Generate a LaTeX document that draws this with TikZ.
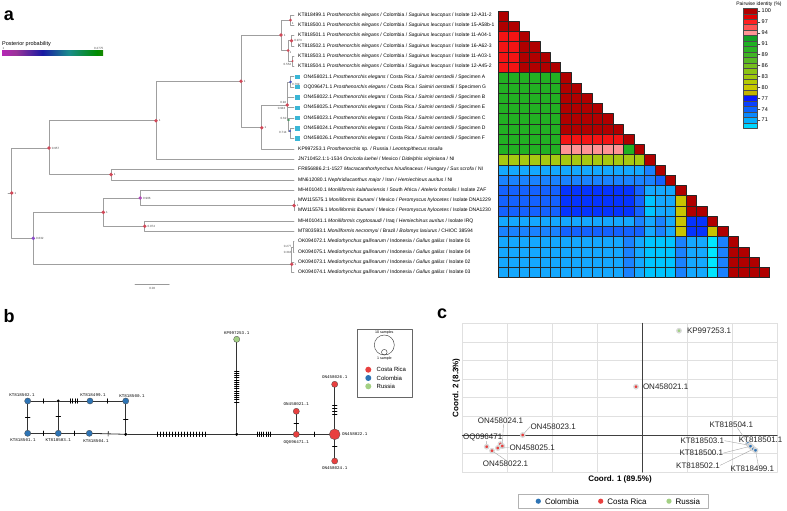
\documentclass[tikz,border=0pt]{standalone}
\usepackage{fontspec}
\setmainfont{Liberation Sans}
\setmonofont{Liberation Mono}
\usetikzlibrary{calc,positioning,decorations.markings}

% heatmap colours
\definecolor{hmD}{HTML}{B00000}
\definecolor{hmR}{HTML}{F41414}
\definecolor{hmP}{HTML}{FF9494}
\definecolor{hmG}{HTML}{22B022}
\definecolor{hmY}{HTML}{A6C812}
\definecolor{hmO}{HTML}{C8C400}
\definecolor{hmA}{HTML}{14A8FF}
\definecolor{hmM}{HTML}{1A82FF}
\definecolor{hmN}{HTML}{1462FF}
\definecolor{hmK}{HTML}{0534FF}
\definecolor{hmC}{HTML}{00C4FF}
\definecolor{hmE}{HTML}{00E6FF}
% countries
\definecolor{cr}{HTML}{E8403F}
\definecolor{co}{HTML}{2E74B5}
\definecolor{ru}{HTML}{A3D084}
\definecolor{crsq}{HTML}{3BB6D6}
% posterior dots
\definecolor{ppred}{HTML}{D04858}
\definecolor{pppur}{HTML}{8A4CC8}
\definecolor{ppmag}{HTML}{B04AB8}
\definecolor{ppblu}{HTML}{4450C0}
\definecolor{ppgrn}{HTML}{40A060}

\pgfdeclarehorizontalshading{postprob}{100bp}{color(0bp)=(red!75!magenta); color(18bp)=(magenta!80!black!90); color(32bp)=(violet!80); color(45bp)=(blue!60!black!90); color(58bp)=(teal!90); color(72bp)=(green!55!black); color(86bp)=(olive!90!black); color(100bp)=(brown!70!black)}

\begin{document}
\begin{tikzpicture}[
		x=1pt, y=-1pt,
		line join=round,
		line cap=round,
		branch/.style={gray!75, line width=0.6pt},
		pplab/.style={font=\fontsize{3}{3}\selectfont, text=black!70, inner sep=0.4pt},
		tiplab/.style={font=\fontsize{5}{5.5}\selectfont, anchor=west, inner sep=0pt},
		crbox/.style={fill=crsq, minimum size=4.4pt, inner sep=0pt},
		cell/.style={draw=black!85, line width=0.5pt},
		hap/.style={circle, draw=black!70, line width=0.3pt, fill=#1, inner sep=0pt, minimum size=6.2pt},
		medvec/.style={circle, fill=black, inner sep=0pt, minimum size=3.4pt},
		hlab/.style={font=\ttfamily\fontsize{4.2}{4.5}\selectfont, inner sep=0.5pt},
		edge/.style={black!80, line width=0.8pt},
		ticks/.style n args={3}{postaction={decorate, decoration={markings,
			mark=between positions #1 and #2 step #3 with {\draw[black, line width=0.6pt] (0,-2.3pt) -- (0,2.3pt);}}}},
		onetick/.style={postaction={decorate, decoration={markings,
			mark=at position #1 with {\draw[black, line width=0.6pt] (0,-2.3pt) -- (0,2.3pt);}}}},
		gridline/.style={black!12, line width=0.5pt},
		axisline/.style={black!75, line width=0.7pt},
		pcpt/.style={circle, fill=#1, draw=black!15, line width=1.3pt, inner sep=0pt, minimum size=4.4pt},
		plab/.style={font=\fontsize{8}{9}\selectfont, inner sep=0.3pt, text=black!85, anchor=west},
		leader/.style={gray!70, line width=0.4pt},
		panel/.style={font=\bfseries\fontsize{18}{18}\selectfont}
	]
	\fill[white] (0,0) rectangle (787,511);
	\useasboundingbox (0,0) rectangle (787,511);
	
	% Panel labels
	\node[panel] (pa) at (9,16) {a};
	\node[panel] (pb) at (9,316) {b};
	\node[panel] (pc) at (442,314) {c};
	
	% ---------------- a: tree ----------------
	% Posterior colour bar
	\node[font=\fontsize{5.5}{6}\selectfont, anchor=west, inner sep=0pt] (pptitle) at (2,44) {Posterior probability};
	\shade[shading=postprob] (2,51) rectangle (103,55.5);
	\node[pplab, anchor=west] (ppmax) at (2,48.5) {1};
	\node[pplab, anchor=east] (ppmin) at (104,48.5) {0.2775};
	
	% Tips
	\foreach \i in {1,...,26} {
		\coordinate (t\i) at (294,{15+(\i-1)*10.3});
	}
	
	% Internal nodes
	\coordinate (R) at (11.7,193);
	\coordinate (U1) at (49,148);
	\coordinate (U2) at (156,120.7);
	\coordinate (U3) at (241,81.3);
	\coordinate (U4) at (111,174.6);
	\coordinate (A) at (281,35);
	\coordinate (B) at (290.5,20.2);
	\coordinate (C) at (288,50.5);
	\coordinate (D) at (291.5,40.8);
	\coordinate (E) at (292.5,61.1);
	\coordinate (F) at (261.7,127.7);
	\coordinate (G) at (287.3,105);
	\coordinate (H) at (290.5,81.9);
	\coordinate (I) at (288.7,120);
	\coordinate (J) at (290,131);
	\coordinate (L1) at (33.3,238.3);
	\coordinate (L2) at (103.3,212.3);
	\coordinate (L3) at (140.3,198);
	\coordinate (L4) at (144.7,226.2);
	\coordinate (MW) at (294,205.6);
	\coordinate (OK) at (291.7,264.3);
	\coordinate (O1) at (292.8,246.8);
	
	% Branches
	\draw[branch] (8,193) -- (R);
	\draw[branch] (R) |- (U1);
	\draw[branch] (R) |- (L1);
	\draw[branch] (U1) |- (U2);
	\draw[branch] (U1) |- (U4);
	\draw[branch] (U2) |- (U3);
	\draw[branch] (U2) |- (t15);
	\draw[branch] (U3) |- (A);
	\draw[branch] (U3) |- (F);
	\draw[branch] (A) |- (B);
	\draw[branch] (A) |- (C);
	\draw[branch] (B) |- (t1);
	\draw[branch] (B) |- (t2);
	\draw[branch] (C) |- (D);
	\draw[branch] (C) |- (E);
	\draw[branch] (D) |- (t3);
	\draw[branch] (D) |- (t4);
	\draw[branch] (E) |- (t5);
	\draw[branch] (E) |- (t6);
	\draw[branch] (F) |- (G);
	\draw[branch] (F) |- (t14);
	\draw[branch] (G) |- (H);
	\draw[branch] (G) |- (t9);
	\draw[branch] (G) |- (t10);
	\draw[branch] (G) |- (I);
	\draw[branch] (H) |- (t7);
	\draw[branch] (H) |- (t8);
	\draw[branch] (I) |- (t11);
	\draw[branch] (I) |- (J);
	\draw[branch] (J) |- (t12);
	\draw[branch] (J) |- (t13);
	\draw[branch] (U4) |- (t16);
	\draw[branch] (U4) |- (t17);
	\draw[branch] (L1) |- (L2);
	\draw[branch] (L1) |- (OK);
	\draw[branch] (L2) |- (L3);
	\draw[branch] (L2) |- (L4);
	\draw[branch] (L3) |- (t18);
	\draw[branch] (L3) |- (MW);
	\draw[branch] (MW) |- (t19);
	\draw[branch] (MW) |- (t20);
	\draw[branch] (L4) |- (t21);
	\draw[branch] (L4) |- (t22);
	\draw[branch] (OK) |- (O1);
	\draw[branch] (OK) |- (t25);
	\draw[branch] (OK) |- (t26);
	\draw[branch] (O1) |- (t23);
	\draw[branch] (O1) |- (t24);
	
	% Node dots and posterior values
	\foreach \n/\col/\txt in {R/ppred/1, U1/ppred/0.957, U2/ppred/1, U3/ppred/1, A/ppred/1,
		D/ppred/0.973, F/ppred/1, U4/ppred/1, L1/pppur/0.632, L2/ppred/1,
		L3/ppmag/0.906, L4/ppred/0.974, MW/ppred/1, OK/ppred/1} {
		\fill[\col] (\n) circle (1.9);
		\node[pplab, anchor=west] (pp\n) at ($(\n)+(2.2,0)$) {\txt};
	}
	\fill[ppred] (B) circle (1.5);
	\node[pplab, anchor=north west] (ppB) at ($(B)+(0.8,1.2)$) {1};
	\fill[ppred] (C) circle (1.5);
	\node[pplab, anchor=north west] (ppC) at ($(C)+(1,0.8)$) {1};
	\fill[ppred] (E) circle (1.1);
	\node[pplab, anchor=north east] (ppE) at ($(E)+(-0.8,1.6)$) {0.554};
	\fill[ppred] (G) circle (1.9);
	\node[pplab, anchor=south east] (ppG) at ($(G)+(-0.6,-1.2)$) {0.94};
	\node[pplab, anchor=north east] (ppGb) at ($(G)+(-1.4,1.6)$) {0.943};
	\fill[ppblu] (H) circle (1.4);
	\node[pplab, anchor=north west] (ppH) at ($(H)+(1,1)$) {0.769};
	\fill[ppgrn] (I) circle (1.1);
	\node[pplab, anchor=east] (ppI) at ($(I)+(-1.6,-1.5)$) {0.62};
	\fill[ppblu] (J) circle (1.1);
	\node[pplab, anchor=east] (ppJ) at ($(J)+(-2.8,1.8)$) {0.714};
	\node[pplab, anchor=east] (ppO1) at ($(O1)+(-0.8,-0.5)$) {0.277};
	\node[pplab, anchor=east] (ppO1b) at ($(O1)+(-0.8,5.2)$) {0.316};
	
	% Scale bar
	\draw[gray!80, line width=0.6pt] (135,284) -- (169.3,284);
	\node[pplab] (sbar) at (152.2,288) {0.03};
	
	% Tip labels
	\foreach \i/\acc/\iso in {1/KT818499.1/12-A31-2, 2/KT818500.1/15-A58b-1, 3/KT818501.1/11-A04-1,
		4/KT818502.1/16-A62-3, 5/KT818503.1/11-A03-1, 6/KT818504.1/12-A45-2} {
		\node[tiplab] (lab\i) at ($(t\i)+(4,0)$) {\acc\ \textit{Prosthenorchis elegans} / Colombia / \textit{Saguinus leucopus} / Isolate \iso};
	}
	\foreach \i/\acc/\sp in {7/ON458021.1/A, 8/OQ096471.1/G, 9/ON458022.1/B, 10/ON458025.1/E,
		11/ON458023.1/C, 12/ON458024.1/D, 13/ON458026.1/F} {
		\node[crbox] (sq\i) at ($(t\i)+(3.6,0)$) {};
		\node[tiplab] (lab\i) at ($(t\i)+(9.5,0)$) {\acc\ \textit{Prosthenorchis elegans} / Costa Rica / \textit{Saimiri oerstedii} / Specimen \sp};
	}
	\node[tiplab] (lab14) at ($(t14)+(4,0)$) {KP997253.1 \textit{Prosthenorchis} sp. / Russia / \textit{Leontopithecus rosalia}};
	\node[tiplab] (lab15) at ($(t15)+(4,0)$) {JN710452.1:1-1534 \textit{Oncicola luehei} / Mexico / \textit{Didelphis virginiana} / NI};
	\node[tiplab] (lab16) at ($(t16)+(4,0)$) {FR856886.2:1-1527 \textit{Macracanthorhynchus hirudinaceus} / Hungary / \textit{Sus scrofa} / NI};
	\node[tiplab] (lab17) at ($(t17)+(4,0)$) {MN612080.1 \textit{Nephridiacanthus major} / Iran / \textit{Hemiechinus auritus} / NI};
	\node[tiplab] (lab18) at ($(t18)+(4,0)$) {MH401040.1 \textit{Moniliformis kalahariensis} / South Africa / \textit{Atelerix frontalis} / Isolate ZAF};
	\node[tiplab] (lab19) at ($(t19)+(4,0)$) {MW115575.1 \textit{Moniliformis ibunami} / Mexico / \textit{Peromyscus hylocetes} / Isolate DNA1229};
	\node[tiplab] (lab20) at ($(t20)+(4,0)$) {MW115576.1 \textit{Moniliformis ibunami} / Mexico / \textit{Peromyscus hylocetes} / Isolate DNA1230};
	\node[tiplab] (lab21) at ($(t21)+(4,0)$) {MH401041.1 \textit{Moniliformis cryptosaudi} / Iraq / \textit{Hemiechinus auritus} / Isolate IRQ};
	\node[tiplab] (lab22) at ($(t22)+(4,0)$) {MT803593.1 \textit{Moniliformis necromysi} / Brazil / \textit{Bolomys lasiurus} / CHIOC 38594};
	\foreach \i/\acc/\iso in {23/OK094072.1/01, 24/OK094075.1/04, 25/OK094073.1/02, 26/OK094074.1/03} {
		\node[tiplab] (lab\i) at ($(t\i)+(4,0)$) {\acc\ \textit{Mediorhynchus gallinarum} / Indonesia / \textit{Gallus gallus} / Isolate \iso};
	}
	
	% ---------------- a: identity heatmap ----------------
	\def\hx{498}
	\def\hy{11}
	\def\cw{10.45}
	\def\ch{10.25}
	\foreach \hrow [count=\r] in {
		{D},
		{D,D},
		{R,R,D},
		{R,R,D,D},
		{R,R,D,D,D},
		{R,R,D,D,D,D},
		{G,G,G,G,G,G,D},
		{G,G,G,G,G,G,D,D},
		{G,G,G,G,G,G,D,D,D},
		{G,G,G,G,G,G,D,D,D,D},
		{G,G,G,G,G,G,D,D,D,D,D},
		{G,G,G,G,G,G,D,D,D,D,D,D},
		{G,G,G,G,G,G,R,R,R,R,R,R,D},
		{G,G,G,G,G,G,P,P,P,P,P,P,G,D},
		{Y,Y,Y,Y,Y,Y,Y,Y,Y,Y,Y,Y,Y,Y,D},
		{A,A,A,A,A,A,A,A,A,A,A,A,A,A,M,D},
		{M,M,M,M,M,M,M,M,M,M,M,M,M,M,M,N,D},
		{N,N,N,N,N,N,K,K,K,K,K,K,K,N,A,A,A,D},
		{N,N,N,N,N,N,K,K,K,K,K,K,K,N,C,A,A,O,D},
		{N,N,N,N,N,N,K,K,K,K,K,K,K,N,C,A,A,O,D,D},
		{A,A,A,A,A,A,A,A,A,A,A,A,A,M,A,M,A,O,K,K,D},
		{M,M,M,M,M,M,N,N,N,N,N,N,N,N,A,M,A,O,K,K,O,D},
		{A,A,A,A,A,A,A,A,A,A,A,A,M,A,C,C,C,M,A,A,E,M,D},
		{A,A,A,A,A,A,A,A,A,A,A,A,M,A,C,C,C,M,A,A,E,M,D,D},
		{A,A,A,A,A,A,A,A,A,A,A,A,M,A,C,C,C,M,A,A,E,M,D,D,D},
		{A,A,A,A,A,A,A,A,A,A,A,A,M,A,C,C,C,M,A,A,E,M,D,D,D,D}} {
		\foreach \c [count=\k] in \hrow {
			\filldraw[cell, fill=hm\c] ({\hx+(\k-1)*\cw},{\hy+(\r-1)*\ch}) rectangle ++(\cw,\ch);
		}
	}
	
	% Identity legend
	\node[font=\fontsize{5}{5}\selectfont, inner sep=0pt] (idtitle) at (759,4) {Pairwise identity (\%)};
	\foreach \hex [count=\k] in {B00000,E00000,FF2020,FF5454,FF9494,12A024,1EB022,2AB222,40B424,58B824,76BE1E,
		8CC414,A2C80A,B4CA04,C8C800,C4B400,0818FF,0A40FF,0A62FF,0A88FF,04AEFF,00D6FF} {
		\definecolor{lgc}{HTML}{\hex}
		\filldraw[fill=lgc, draw=black!70, line width=0.35pt] (743,{8.3+(\k-1)*5.45}) rectangle ++(14,5.45);
	}
	\foreach \v [count=\k] in {100,97,94,91,89,86,83,80,77,74,71} {
		\draw[black!70, line width=0.4pt] (757,{8.3+(2*\k-1.5)*5.45}) -- ++(3,0);
		\node[font=\fontsize{5.5}{6}\selectfont, anchor=west, inner sep=0pt] (id\v) at (761.5,{8.3+(2*\k-1.5)*5.45}) {\v};
	}
	
	% ---------------- b: haplotype network ----------------
	\node[hap=co] (n502) at (27.7,401) {};
	\node[hap=co] (n501) at (27.7,433.3) {};
	\node[medvec] (m1) at (58.3,401) {};
	\node[hap=co] (n503) at (58.3,433.3) {};
	\node[hap=co] (n499) at (90,401) {};
	\node[hap=co] (n500) at (125.7,401) {};
	\node[hap=co] (n504) at (89.3,433.3) {};
	\node[medvec] (m2) at (125.7,434.3) {};
	\node[medvec] (m3) at (236.7,434.3) {};
	\node[hap=ru] (kp) at (236.7,339.3) {};
	\node[hap=cr] (oq) at (296.3,434.3) {};
	\node[hap=cr] (on021) at (296.3,411.3) {};
	\node[hap=cr, minimum size=10.8pt] (on022) at (334.7,434.3) {};
	\node[hap=cr] (on026) at (334.7,384.3) {};
	\node[hap=cr] (on024) at (334.7,461) {};
	
	\draw[edge, onetick=0.5] (n502) -- (m1);
	\draw[edge, onetick=0.5] (n502) -- (n501);
	\draw[edge, onetick=0.5] (m1) -- (n503);
	\draw[edge, ticks={0.38}{0.72}{2.3pt}] (m1) -- (n499);
	\draw[edge, onetick=0.48] (n499) -- (n500);
	\draw[edge, onetick=0.5] (n501) -- (n503);
	\draw[edge, onetick=0.5] (n503) -- (n504);
	\draw[edge, onetick=0.5] (n504) -- (m2);
	\draw[edge, onetick=0.55] (n500) -- (m2);
	\draw[edge, ticks={0.28}{0.74}{3pt}] (m2) -- (m3);
	\draw[edge, ticks={0.34}{0.70}{2.2pt}] (m3) -- (kp);
	\draw[edge, ticks={0.34}{0.62}{2.2pt}] (m3) -- (oq);
	\draw[edge, onetick=0.5] (oq) -- (on021);
	\draw[edge, onetick=0.5] (oq) -- (on022);
	\draw[edge, ticks={0.36}{0.64}{3pt}] (on022) -- (on026);
	\draw[edge, onetick=0.35] (on022) -- (on024);
	
	\node[hlab] (l502) at (22,395) {KT818502.1};
	\node[hlab] (l501) at (23,440) {KT818501.1};
	\node[hlab] (l503) at (58.3,440) {KT818503.1};
	\node[hlab] (l499) at (93,395) {KT818499.1};
	\node[hlab] (l500) at (132,396) {KT818500.1};
	\node[hlab] (l504) at (96,441) {KT818504.1};
	\node[hlab] (lkp) at (236.7,333) {KP997253.1};
	\node[hlab] (loq) at (296.3,442) {OQ096471.1};
	\node[hlab] (l021) at (296.3,404) {ON458021.1};
	\node[hlab, anchor=west] (l022) at (341.5,434.3) {ON458022.1};
	\node[hlab] (l026) at (334.7,377.5) {ON458026.1};
	\node[hlab] (l024) at (334.7,468) {ON458024.1};
	
	% Network legend
	\draw[black!60, line width=0.5pt] (357.7,329.3) rectangle (412.7,397.3);
	\draw[black!80, line width=0.4pt] (384.3,345) circle (10);
	\draw[black!80, line width=0.4pt] (384.3,352.2) circle (2.8);
	\node[font=\fontsize{3.6}{4}\selectfont, inner sep=0pt] (ten) at (384.3,332.8) {10 samples};
	\node[font=\fontsize{3.6}{4}\selectfont, inner sep=0pt] (one) at (384.3,358.6) {1 sample};
	\foreach \col/\name [count=\k] in {cr/Costa Rica, co/Colombia, ru/Russia} {
		\fill[\col] (368.3,{361.4+\k*8.3}) circle (3);
		\node[font=\fontsize{6}{6}\selectfont, anchor=west, inner sep=0pt] (lg\k) at (376.5,{361.4+\k*8.3}) {\name};
	}
	
	% ---------------- c: PCoA ----------------
	\foreach \i in {0,...,7} {
		\draw[gridline] ({462.3+45*\i},323.3) -- ({462.3+45*\i},472.3);
	}
	\foreach \j in {0,...,8} {
		\draw[gridline] (462.3,{323.3+18.6*\j}) -- (777.3,{323.3+18.6*\j});
	}
	\draw[axisline] (642.3,323.3) -- (642.3,472.3);
	\draw[axisline] (462.3,434.9) -- (777.3,434.9);
	\node[font=\bfseries\fontsize{8}{9}\selectfont] (xlab) at (620,479.5) {Coord. 1 (89.5\%)};
	\node[font=\bfseries\fontsize{8}{9}\selectfont, rotate=90] (ylab) at (456.2,388) {Coord. 2 (8.3\%)};
	
	% points
	\node[pcpt=ru] (p253) at (679,330.7) {};
	\node[pcpt=cr] (p021) at (636,386.7) {};
	\node[pcpt=cr] (p023) at (522.7,435) {};
	\node[pcpt=cr] (p026) at (500.5,444) {};
	\node[pcpt=cr] (p024) at (502.3,446) {};
	\node[pcpt=cr] (p025) at (497.8,448) {};
	\node[pcpt=cr] (p022) at (492,450.7) {};
	\node[pcpt=cr] (p471) at (486.7,446.7) {};
	\node[pcpt=co] (p504) at (748,443.5) {};
	\node[pcpt=co] (p503) at (749.5,445.3) {};
	\node[pcpt=co] (p501) at (752,447.5) {};
	\node[pcpt=co] (p500) at (750.5,446.2) {};
	\node[pcpt=co] (p502) at (753.5,449) {};
	\node[pcpt=co] (p499) at (755.5,450.3) {};
	
	% labels
	\node[plab] (q253) at (686.5,330.9) {KP997253.1};
	\node[plab] (q021) at (642.5,386.9) {ON458021.1};
	\node[plab] (q024) at (477.3,420.7) {ON458024.1};
	\node[plab] (q023) at (530,426.7) {ON458023.1};
	\node[plab] (q471) at (462.6,437.3) {OQ096471};
	\node[plab] (q025) at (509,447.7) {ON458025.1};
	\node[plab] (q022) at (482.3,463.3) {ON458022.1};
	\node[plab] (q504) at (709,424.3) {KT818504.1};
	\node[plab] (q503) at (680,440.7) {KT818503.1};
	\node[plab] (q501) at (738.3,439.3) {KT818501.1};
	\node[plab] (q500) at (679,453) {KT818500.1};
	\node[plab] (q502) at (675.7,465.3) {KT818502.1};
	\node[plab] (q499) at (730,469) {KT818499.1};
	
	\draw[leader] (q024.south) ++(3,0) -- (p024);
	\draw[leader] (q023.west) -- (p023);
	\draw[leader] (q471.south) ++(4,0) -- (p471);
	\draw[leader] (q025.west) -- (p025);
	\draw[leader] (q022.north) -- (p022);
	\draw[leader] (q504.south) ++(6,0) -- (p504);
	\draw[leader] (q503.east) -- (p503);
	\draw[leader] (q500.east) -- (p500);
	\draw[leader] (q502.east) -- (p502);
	\draw[leader] (q499.north) ++(6,0) -- (p499);
	
	% legend
	\draw[black!30, line width=0.6pt] (518.3,494) rectangle (708.3,508.3);
	\foreach \col/\name/\xx [count=\k] in {co/Colombia/538.3, cr/Costa Rica/600.7, ru/Russia/669} {
		\fill[\col] (\xx,501.2) circle (2.6);
		\node[font=\fontsize{8}{9}\selectfont, anchor=west, inner sep=0pt] (key\k) at (\xx+6.5,501.2) {\name};
	}
	
\end{tikzpicture}
\end{document}
